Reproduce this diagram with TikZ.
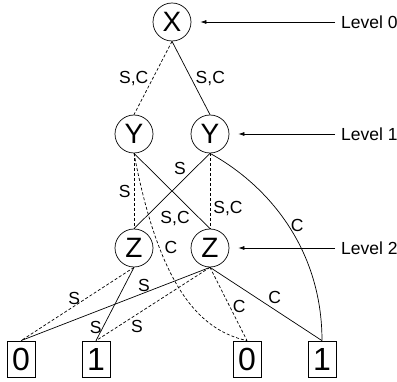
\documentclass[tikz,border=0pt]{standalone}
\usepackage{fontspec}
\setmainfont{Liberation Sans}
\usetikzlibrary{arrows.meta}
\newcommand{\fsz}[1]{\fontsize{#1}{#1}\selectfont}
\tikzset{
  var/.style={circle, draw, line width=0.7pt, minimum size=38pt, inner sep=0pt, font=\fsz{28}},
  leaf/.style={draw, line width=0.7pt, minimum width=28pt, minimum height=36pt, inner sep=0pt, font=\fsz{32}},
  hi/.style={line width=0.7pt},
  lo/.style={line width=0.7pt, dash pattern=on 3pt off 2pt},
  lab/.style={font=\fsz{17.5}, inner sep=1pt},
  lev/.style={font=\fsz{17.5}, anchor=west, inner xsep=6pt, inner ysep=2pt},
  pointer/.style={-{Latex[length=6pt,width=4pt]}, line width=0.7pt, shorten >=9pt},
}
\begin{document}
\begin{tikzpicture}[x=1pt, y=-1pt]
  \useasboundingbox (0,0) rectangle (397,382);
  % variables, one row per level
  \node[var] (x) at (172,22) {X};
  \node[var] (y1) at (134,134) {Y}; \node[var] (y2) at (210,134) {Y};
  \node[var] (z1) at (134,248) {Z}; \node[var] (z2) at (210,248) {Z};
  % terminals
  \node[leaf] (a0) at (21,359) {0}; \node[leaf] (a1) at (96,359) {1};
  \node[leaf] (b0) at (247,359) {0}; \node[leaf] (b1) at (322,359) {1};
  % level markers
  \node[lev] (l0) at (335,22) {Level 0};
  \node[lev] (l1) at (335,134) {Level 1};
  \node[lev] (l2) at (335,248) {Level 2};
  \draw[pointer] (l0) -- (x); \draw[pointer] (l1) -- (y2); \draw[pointer] (l2) -- (z2);
  % edges
  \draw[lo] (x.south) -- node[lab, pos=0.51, left=3pt] {S,C} (y1.north);
  \draw[hi] (x.south) -- node[lab, pos=0.51, right=3pt] {S,C} (y2.north);
  \draw[lo] (y1.south) -- node[lab, left=2pt] {S} (z1.north);
  \draw[hi] (y1.south) -- node[lab, pos=0.75, anchor=north east] {S,C} (z2.north);
  \draw[lo] (y1.south) .. controls +(26,138) and +(-45,-10) .. node[lab, pos=0.28, right=4pt] {C} (b0.north);
  \draw[hi] (y2.south) -- node[lab, pos=0.3, anchor=south east] {S} (z1.north);
  \draw[lo] (y2.south) -- node[lab, pos=0.73, right=2pt] {S,C} (z2.north);
  \draw[hi] (y2.south) .. controls +(60,33) and +(0,-90) .. node[lab, pos=0.5, right=1pt] {C} (b1.north);
  \draw[lo] (z1.south) -- node[lab, pos=0.53, above] {S} (a0.north);
  \draw[hi] (z1.south) -- node[lab, pos=0.82, left] {S} (a1.north);
  \draw[hi] (z2.south) -- node[lab, pos=0.35, above] {S} (a0.north);
  \draw[lo] (z2.south) -- node[lab, pos=0.64, below=5pt] {S} (a1.north);
  \draw[lo] (z2.south) -- node[lab, pos=0.53, right=2pt] {C} (b0.north);
  \draw[hi] (z2.south) -- node[lab, pos=0.51, above right] {C} (b1.north);
\end{tikzpicture}
\end{document}
